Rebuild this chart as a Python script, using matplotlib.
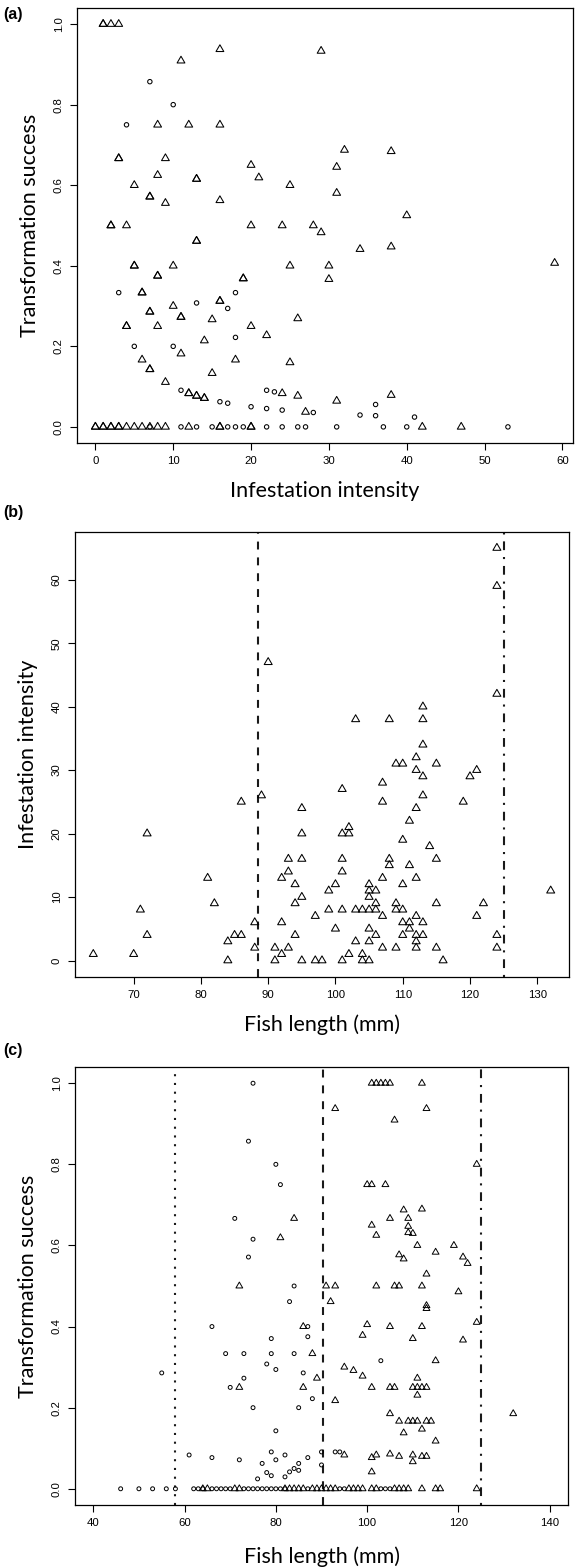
import matplotlib
matplotlib.use("Agg")
import matplotlib.pyplot as plt
from matplotlib.path import Path

# ---------------- data ----------------
# Panel (a): infestation intensity vs transformation success
a_triangles = [
    (1, 1.0), (1, 1.0), (2, 1.0), (3, 1.0),
    (16, 0.9375), (29, 0.9333), (11, 0.9091),
    (8, 0.75), (12, 0.75), (16, 0.75),
    (3, 0.6667), (3, 0.6667), (9, 0.6667), (20, 0.65), (8, 0.625), (13, 0.6154), (13, 0.6154),
    (21, 0.619), (5, 0.6), (25, 0.6), (7, 0.5714), (7, 0.5714), (9, 0.5556), (16, 0.5625),
    (2, 0.5), (2, 0.5), (4, 0.5), (20, 0.5), (24, 0.5), (28, 0.5),
    (32, 0.6875), (38, 0.6842), (31, 0.6452), (31, 0.5806), (40, 0.525),
    (29, 0.4828), (13, 0.4615), (13, 0.4615), (5, 0.4), (5, 0.4), (10, 0.4), (25, 0.4), (30, 0.4),
    (8, 0.375), (8, 0.375), (30, 0.3667), (19, 0.3684), (19, 0.3684), (6, 0.3333), (6, 0.3333),
    (16, 0.3125), (16, 0.3125), (10, 0.3), (7, 0.2857), (7, 0.2857), (11, 0.2727), (11, 0.2727),
    (15, 0.2667), (26, 0.2692), (4, 0.25), (4, 0.25), (8, 0.25), (20, 0.25), (22, 0.2273),
    (14, 0.2143), (11, 0.1818), (6, 0.1667), (7, 0.1429), (7, 0.1429), (18, 0.1667), (25, 0.16),
    (15, 0.1333), (9, 0.1111), (12, 0.0833), (12, 0.0833), (13, 0.0769), (13, 0.0769),
    (14, 0.0714), (14, 0.0714), (24, 0.0833), (26, 0.0769), (27, 0.037),
    (34, 0.4412), (38, 0.4474), (59, 0.4068), (31, 0.0645), (38, 0.0789),
    (0, 0), (0, 0), (1, 0), (1, 0), (2, 0), (2, 0), (3, 0), (3, 0), (4, 0), (5, 0), (6, 0),
    (7, 0), (8, 0), (9, 0), (12, 0), (16, 0), (16, 0), (20, 0), (20, 0), (42, 0), (47, 0),
]
a_circles = [
    (7, 0.8571), (10, 0.8), (4, 0.75), (3, 0.3333), (18, 0.3333), (13, 0.3077), (17, 0.2941),
    (5, 0.2), (10, 0.2), (18, 0.2222), (11, 0.0909), (16, 0.0625), (17, 0.0588), (20, 0.05),
    (22, 0.0455), (24, 0.0417), (22, 0.0909), (23, 0.087), (28, 0.0357), (36, 0.0556),
    (34, 0.0294), (36, 0.0278), (41, 0.0244),
    (7, 0), (11, 0), (13, 0), (15, 0), (17, 0), (18, 0), (19, 0), (22, 0), (24, 0), (26, 0),
    (27, 0), (31, 0), (37, 0), (40, 0), (53, 0),
]

# Panel (b): fish length vs infestation intensity
b_triangles = [
    (64, 1), (70, 1), (71, 8), (72, 4), (72, 20), (81, 13), (82, 9), (84, 3), (84, 0), (85, 4),
    (86, 4), (86, 25), (88, 6), (88, 2), (89, 26), (90, 47), (91, 2), (91, 0), (92, 1), (92, 6),
    (92, 13), (93, 14), (93, 16), (93, 2), (94, 12), (94, 9), (94, 4), (95, 16), (95, 20),
    (95, 24), (95, 10), (95, 0), (97, 7), (97, 0), (98, 0), (99, 11), (99, 8), (100, 12),
    (100, 5), (101, 27), (101, 20), (101, 16), (101, 14), (101, 8), (101, 0), (102, 1),
    (102, 21), (102, 20), (103, 8), (103, 3), (103, 38), (104, 8), (104, 1), (104, 0), (105, 0),
    (105, 12), (105, 11), (105, 10), (105, 8), (105, 5), (105, 3), (106, 11), (106, 9),
    (106, 8), (106, 4), (107, 28), (107, 25), (107, 13), (107, 7), (107, 2), (108, 16),
    (108, 15), (108, 38), (109, 31), (109, 9), (109, 8), (109, 2), (110, 31), (110, 19),
    (110, 12), (110, 8), (110, 6), (110, 4), (111, 22), (111, 15), (111, 6), (111, 5),
    (112, 32), (112, 30), (112, 24), (112, 13), (112, 7), (112, 4), (112, 3), (112, 2),
    (113, 29), (113, 26), (113, 6), (113, 4), (113, 40), (113, 38), (113, 34), (114, 18),
    (115, 31), (115, 16), (115, 9), (115, 2), (116, 0), (119, 25), (120, 29), (121, 30),
    (121, 7), (122, 9), (124, 4), (124, 2), (124, 65), (124, 59), (124, 42), (132, 11),
]

# Panel (c): fish length vs transformation success
c_triangles = [
    (84, 0.6667), (81, 0.619), (72, 0.5), (91, 0.5), (92, 0.4615), (86, 0.4), (88, 0.3333),
    (89, 0.2727), (72, 0.25), (86, 0.25),
    (101, 1.0), (102, 1.0), (103, 1.0), (104, 1.0), (105, 1.0), (112, 1.0), (93, 0.9375),
    (113, 0.9375), (106, 0.9091), (124, 0.8), (100, 0.75), (101, 0.75), (104, 0.75),
    (108, 0.6875), (112, 0.6897), (105, 0.6667), (109, 0.6667), (101, 0.65), (109, 0.6471),
    (102, 0.625), (109, 0.6316), (110, 0.6296), (111, 0.6), (115, 0.5833), (119, 0.6),
    (107, 0.5769), (108, 0.5667), (121, 0.5714), (122, 0.5556), (113, 0.5294),
    (93, 0.5), (102, 0.5), (106, 0.5), (107, 0.5), (112, 0.5), (120, 0.4857), (113, 0.4516),
    (113, 0.4444), (100, 0.4048), (105, 0.4), (112, 0.4), (124, 0.4103), (99, 0.3784),
    (110, 0.3704), (121, 0.3667), (115, 0.3158), (95, 0.3), (97, 0.2917), (99, 0.2778),
    (101, 0.25), (105, 0.25), (106, 0.25), (110, 0.25), (111, 0.25), (112, 0.25), (113, 0.25),
    (111, 0.2727), (111, 0.2308), (93, 0.2174), (105, 0.1852), (107, 0.1667), (109, 0.1667),
    (110, 0.1667), (111, 0.1667), (113, 0.1667), (114, 0.1667), (112, 0.1471), (108, 0.1379),
    (115, 0.1176), (132, 0.1852), (95, 0.0833), (101, 0.0769), (102, 0.0833), (105, 0.0857),
    (107, 0.08), (110, 0.0833), (110, 0.0667), (112, 0.08), (113, 0.08), (101, 0.0417),
    (64, 0), (65, 0), (71, 0), (72, 0), (82, 0), (83, 0), (84, 0), (85, 0), (86, 0), (88, 0),
    (89, 0), (90, 0), (91, 0), (92, 0), (93, 0), (96, 0), (97, 0), (98, 0), (99, 0), (101, 0),
    (102, 0), (106, 0), (107, 0), (108, 0), (109, 0), (112, 0), (115, 0), (116, 0), (124, 0),
]
c_circles = [
    (75, 1.0), (74, 0.8571), (80, 0.8), (81, 0.75), (71, 0.6667), (75, 0.6154), (74, 0.5714),
    (84, 0.5), (83, 0.4615), (66, 0.4), (87, 0.4), (79, 0.3704), (87, 0.375), (69, 0.3333),
    (73, 0.3333), (79, 0.3333), (84, 0.3333), (78, 0.3077), (80, 0.2941), (55, 0.2857),
    (86, 0.2857), (73, 0.2727), (70, 0.25), (88, 0.2222), (75, 0.2), (85, 0.2), (80, 0.1429),
    (61, 0.0833), (66, 0.0769), (72, 0.0714), (79, 0.0909), (80, 0.0714), (82, 0.0833),
    (87, 0.0769), (90, 0.0909), (90, 0.0588), (77, 0.0625), (85, 0.0625), (84, 0.05),
    (85, 0.0455), (83, 0.0417), (78, 0.04), (79, 0.0323), (82, 0.0294), (76, 0.0244),
    (103, 0.3158), (93, 0.0909), (94, 0.0909),
    (46, 0), (50, 0), (53, 0), (56, 0), (58, 0), (62, 0), (63, 0), (64, 0), (66, 0), (67, 0),
    (68, 0), (69, 0), (70, 0), (73, 0), (74, 0), (75, 0), (76, 0), (77, 0), (78, 0), (79, 0),
    (80, 0), (81, 0), (82, 0), (87, 0), (94, 0), (95, 0), (103, 0), (104, 0), (105, 0),
]

# reference lines
b_vlines = [88.5, 125]
c_vlines = [58, 90.3, 125]

a_xticks = [0, 10, 20, 30, 40, 50, 60]
b_xticks = [70, 80, 90, 100, 110, 120, 130]
c_xticks = [40, 60, 80, 100, 120, 140]
success_ticks = [0.0, 0.2, 0.4, 0.6, 0.8, 1.0]
intensity_ticks = [0, 10, 20, 30, 40, 50, 60]

# ---------------- figure ----------------
W, H = 579, 1567
fig = plt.figure(figsize=(W / 100, H / 100), dpi=100)

TICKFONT = "Liberation Sans"
LABELFONT = "Lato"

def add_ax(l, t, r, b):
    return fig.add_axes([l / W, 1 - b / H, (r - l) / W, (b - t) / H])

tri_marker = Path([(0, 1), (-0.866, -0.5), (0.866, -0.5), (0, 1)], closed=True)

def style(ax, xticks, yticks, yfmt, xlabel, ylabel, hpx):
    for s in ax.spines.values():
        s.set_linewidth(0.9)
        s.set_color("black")
    ax.set_xticks(xticks)
    ax.set_yticks(yticks)
    ax.set_xticklabels([str(t) for t in xticks], fontfamily=TICKFONT, fontsize=8.2)
    ax.set_yticklabels([yfmt(t) for t in yticks], fontfamily=TICKFONT, fontsize=8.2,
                       rotation=90, va="center")
    ax.tick_params(direction="out", length=5, width=0.8, pad=4.5, colors="black")
    ax.set_xlabel(xlabel, fontfamily=LABELFONT, fontsize=15.5, va="center")
    ax.set_ylabel(ylabel, fontfamily=LABELFONT, fontsize=15.5, va="center")
    ax.xaxis.set_label_coords(0.5, -48 / hpx)
    ax.yaxis.set_label_coords(-47 / 496, 0.5)

def scat(ax, pts, marker, s, lw):
    xs = [p[0] for p in pts]
    ys = [p[1] for p in pts]
    ax.scatter(xs, ys, marker=marker, s=s, facecolors="none", edgecolors="black",
               linewidths=lw, zorder=3)

# Panel (a)
axa = add_ax(77, 8, 573, 443)
scat(axa, a_triangles, tri_marker, 42, 0.75)
scat(axa, a_circles, "o", 10, 0.75)
axa.set_xlim(-2.36, 61.36)
axa.set_ylim(-0.04, 1.04)
style(axa, a_xticks, success_ticks, lambda t: f"{t:.1f}", "Infestation intensity",
      "Transformation success", 435)

# Panel (b)
axb = add_ax(75, 531.5, 569, 977)
scat(axb, b_triangles, tri_marker, 44, 0.75)
axb.axvline(b_vlines[0], color="#1a1a1a", lw=1.5, linestyle=(0, (3.8, 3.8)), zorder=2)
axb.axvline(b_vlines[1], color="#1a1a1a", lw=1.5, linestyle=(0, (1, 3.3, 4.2, 3.3)), zorder=2)
axb.set_xlim(61.28, 134.72)
axb.set_ylim(-2.6, 67.6)
style(axb, b_xticks, intensity_ticks, lambda t: f"{t:d}", "Fish length (mm)",
      "Infestation intensity", 445.5)

# Panel (c)
axc = add_ax(75, 1067, 568, 1505)
scat(axc, c_triangles, tri_marker, 32, 0.7)
scat(axc, c_circles, "o", 8, 0.7)
axc.axvline(c_vlines[0], color="#1a1a1a", lw=1.5, linestyle=(0, (1, 3.2)), zorder=2)
axc.axvline(c_vlines[1], color="#1a1a1a", lw=1.5, linestyle=(0, (3.8, 3.8)), zorder=2)
axc.axvline(c_vlines[2], color="#1a1a1a", lw=1.5, linestyle=(0, (1, 3.3, 4.2, 3.3)), zorder=2)
axc.set_xlim(36, 144)
axc.set_ylim(-0.04, 1.04)
style(axc, c_xticks, success_ticks, lambda t: f"{t:.1f}", "Fish length (mm)",
      "Transformation success", 438)
axc.xaxis.set_label_coords(0.5, -52 / 438)

# panel letters
for lab, ypx in [("(a)", 15), ("(b)", 512), ("(c)", 1050)]:
    fig.text(3 / W, 1 - ypx / H, lab, fontfamily=TICKFONT, fontweight="bold",
             fontsize=11.5, ha="left", va="center")

fig.savefig("out.png", dpi=100)
